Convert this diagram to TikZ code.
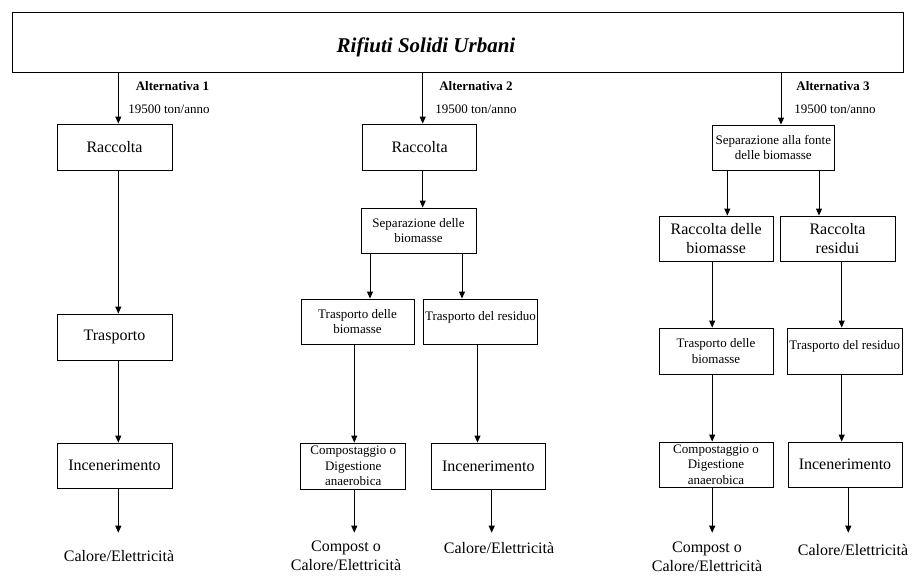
\documentclass[tikz,border=0pt]{standalone}
\usepackage{fontspec}
\setmainfont{Liberation Serif}
\usetikzlibrary{arrows.meta}

\begin{document}
\begin{tikzpicture}[x=1pt,y=-1pt,
  box/.style={draw, line width=0.9pt, inner sep=0pt, align=center,
              font=\fontsize{16}{19.3}\selectfont},
  smallbox/.style={box, font=\fontsize{13}{15.7}\selectfont},
  txt/.style={inner sep=0pt, align=center, font=\fontsize{16}{18.5}\selectfont},
  alt/.style={inner sep=0pt, font=\fontsize{13}{15}\selectfont\bfseries},
  qty/.style={inner sep=0pt, font=\fontsize{13}{15}\selectfont},
  arr/.style={line width=0.9pt, -{Triangle[length=7pt,width=6pt]}},
  ln/.style={line width=0.9pt}]
\useasboundingbox (0,0) rectangle (917,575);

% header
\node[draw, line width=0.9pt, minimum width=891, minimum height=60, inner sep=0pt] (rsu) at (457.5,42) {};
\node[inner sep=0pt, anchor=base, font=\fontsize{21}{24}\selectfont\bfseries\itshape] (title) at (426,53) {Rifiuti Solidi Urbani};

% vertical flow lines (x positions)
\coordinate (xa) at (118.3,0);
\coordinate (xb) at (422.7,0);
\coordinate (xb1) at (370,0);
\coordinate (xb2) at (462,0);
\coordinate (xb3) at (354.3,0);
\coordinate (xb4) at (477.5,0);
\coordinate (xb5) at (491.7,0);
\coordinate (xc) at (781,0);
\coordinate (xc1) at (727.3,0);
\coordinate (xc2) at (819,0);
\coordinate (xc3) at (712.2,0);
\coordinate (xc4) at (841.7,0);
\coordinate (xc5) at (848.3,0);
\coordinate (yend) at (0,532.7);

% alternative labels
\node[alt] (a1) at (172.5,86) {Alternativa 1};
\node[qty] (n1) at (169,109) {19500 ton/anno};
\node[alt] (a2) at (476,86) {Alternativa 2};
\node[qty] (n2) at (476,109) {19500 ton/anno};
\node[alt] (a3) at (833,86) {Alternativa 3};
\node[qty] (n3) at (835,109) {19500 ton/anno};

% Alternativa 1
\node[box, minimum width=115, minimum height=46] (r1) at (114.5,147) {Raccolta};
\node[box, minimum width=115, minimum height=46] (t1) at (114.5,337) {Trasporto};
\node[box, minimum width=115, minimum height=45] (i1) at (114.5,465.5) {Incenerimento};
\node[txt] (e1) at (119,556) {Calore/Elettricità};

% Alternativa 2
\node[box, minimum width=114, minimum height=46] (r2) at (419.7,147) {Raccolta};
\node[smallbox, minimum width=115, minimum height=45] (s2) at (418.5,230.5) {Separazione delle\\biomasse};
\node[smallbox, minimum width=113, minimum height=45] (tb2) at (357.5,321.5) {Trasporto delle\\biomasse};
\node[smallbox, minimum width=114.4, minimum height=45, text depth=12] (tr2) at (480.5,321.5) {Trasporto del residuo};
\node[smallbox, minimum width=105, minimum height=46] (cp2) at (353.2,466) {Compostaggio o\\Digestione\\anaerobica};
\node[box, minimum width=114.7, minimum height=46] (in2) at (488.3,466) {Incenerimento};
\node[txt] (e2a) at (346,556) {Compost o\\Calore/Elettricità};
\node[txt] (e2b) at (499,548) {Calore/Elettricità};

% Alternativa 3
\node[smallbox, minimum width=121.3, minimum height=45] (sf3) at (773.3,147.5) {Separazione alla fonte\\delle biomasse};
\node[box, minimum width=114.3, minimum height=45] (rb3) at (716.2,238.5) {Raccolta delle\\biomasse};
\node[box, minimum width=115, minimum height=45] (rr3) at (837.5,238.5) {Raccolta\\residui};
\node[smallbox, minimum width=114, minimum height=46] (tb3) at (716,351) {Trasporto delle\\biomasse};
\node[smallbox, minimum width=114.3, minimum height=46, text depth=12] (tr3) at (844.8,351) {Trasporto del residuo};
\node[smallbox, minimum width=114, minimum height=45] (cp3) at (716,464.5) {Compostaggio o\\Digestione\\anaerobica};
\node[box, minimum width=114, minimum height=45] (in3) at (845,464.5) {Incenerimento};
\node[txt] (e3a) at (707,557) {Compost o\\Calore/Elettricità};
\node[txt] (e3b) at (853,550) {Calore/Elettricità};

% connectors, Alternativa 1
\draw[arr] (rsu.south -| xa) -- (r1.north -| xa);
\draw[arr] (r1.south -| xa) -- (t1.north -| xa);
\draw[arr] (t1.south -| xa) -- (i1.north -| xa);
\draw[arr] (i1.south -| xa) -- (yend -| xa);

% connectors, Alternativa 2
\draw[arr] (rsu.south -| xb) -- (r2.north -| xb);
\draw[arr] (r2.south -| xb) -- (s2.north -| xb);
\draw[arr] (s2.south -| xb1) -- (tb2.north -| xb1);
\draw[arr] (s2.south -| xb2) -- (tr2.north -| xb2);
\draw[arr] (tb2.south -| xb3) -- (cp2.north -| xb3);
\draw[arr] (tr2.south -| xb4) -- (in2.north -| xb4);
\draw[arr] (cp2.south -| xb3) -- (yend -| xb3);
\draw[arr] (in2.south -| xb5) -- (yend -| xb5);

% connectors, Alternativa 3
\draw[arr] (rsu.south -| xc) -- (sf3.north -| xc);
\draw[arr] (sf3.south -| xc1) -- (rb3.north -| xc1);
\draw[arr] (sf3.south -| xc2) -- (rr3.north -| xc2);
\draw[arr] (rb3.south -| xc3) -- (tb3.north -| xc3);
\draw[arr] (rr3.south -| xc4) -- (tr3.north -| xc4);
\draw[arr] (tb3.south -| xc3) -- (cp3.north -| xc3);
\draw[arr] (tr3.south -| xc4) -- (in3.north -| xc4);
\draw[arr] (cp3.south -| xc3) -- (yend -| xc3);
\draw[arr] (in3.south -| xc5) -- (yend -| xc5);
\end{tikzpicture}
\end{document}
